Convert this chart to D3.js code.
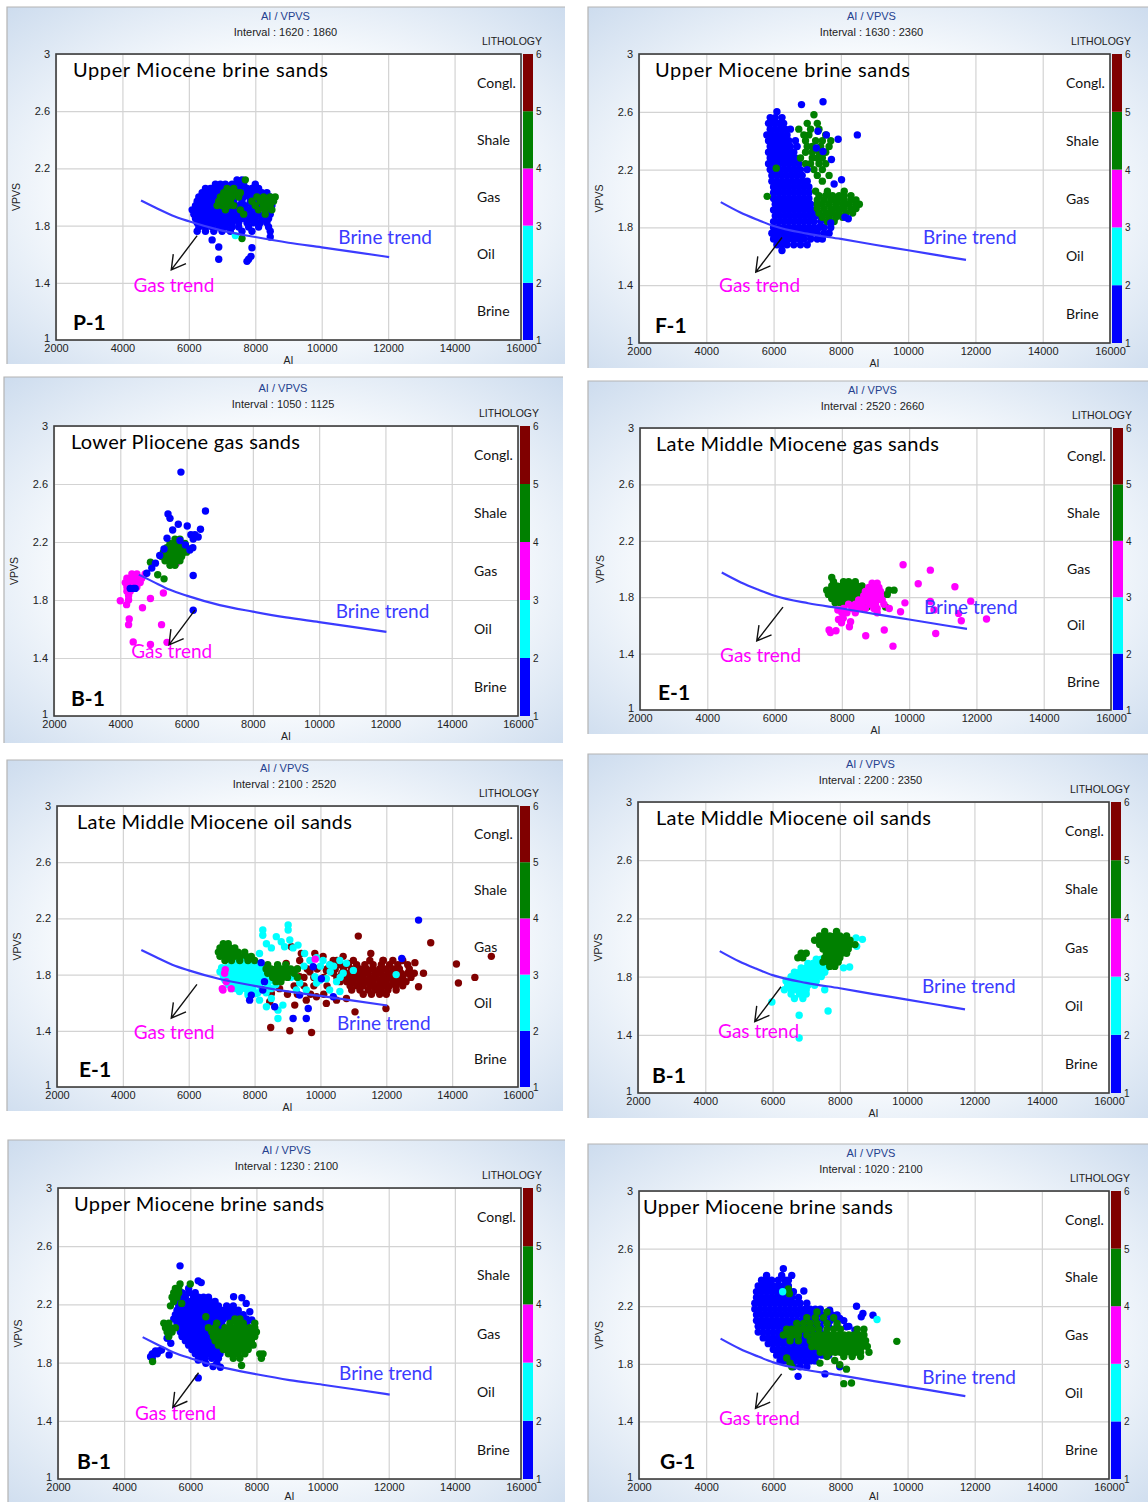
<!DOCTYPE html>
<html>
<head>
<meta charset="utf-8">
<script src="https://cdn.jsdelivr.net/npm/d3@7"></script>
<style>
  body { margin: 0; background: #ffffff; }
  svg { display: block; }
</style>
</head>
<body>
<div id="chart"></div>
<script>
// ---- shared chart values ----
const xTicks = [2000, 4000, 6000, 8000, 10000, 12000, 14000, 16000];
const yTicks = [1, 1.4, 1.8, 2.2, 2.6, 3];
const lithoTicks = [1, 2, 3, 4, 5, 6];
const lithoKeys = ["brine", "oil", "gas", "shale", "congl"];
const lithoNames = ["Brine", "Oil", "Gas", "Shale", "Congl."];

const titles = [
  "Upper Miocene  brine sands", "Upper  Miocene brine sands",
  "Lower Pliocene gas sands", "Late Middle Miocene gas sands",
  "Late Middle Miocene oil sands", "Late Middle Miocene oil sands",
  "Upper Miocene brine sands", "Upper Miocene brine sands"
];
const wells = ["P-1", "F-1", "B-1", "E-1", "E-1", "B-1", "B-1", "G-1"];
const intervals = [
  "1620 : 1860", "1630 : 2360", "1050 : 1125", "2520 : 2660",
  "2100 : 2520", "2200 : 2350", "1230 : 2100", "1020 : 2100"
];

// brine trend curve [AI, VPVS], left column and right column panels
const brineTrendLeft = [[4560, 1.975], [5000, 1.925], [5500, 1.87], [6000, 1.83], [7000, 1.765],
  [8000, 1.72], [9000, 1.68], [10000, 1.648], [11000, 1.615], [12030, 1.58]];
const brineTrendRight = [[4430, 1.975], [5000, 1.905], [5500, 1.855], [6000, 1.81], [7000, 1.757],
  [8000, 1.72], [9000, 1.68], [10000, 1.642], [11000, 1.603], [11720, 1.575]];
const gasArrow = [[6250, 1.73], [5470, 1.49]];
const brineLabelAt = [[10500, 1.72], [10440, 1.731], [10500, 1.724], [10440, 1.728],
  [10500, 1.456], [10440, 1.737], [10500, 1.726], [10440, 1.708]];
const gasLabelAt = [[4330, 1.385], [4380, 1.40], [4330, 1.448], [4380, 1.389],
  [4330, 1.391], [4380, 1.423], [4330, 1.452], [4380, 1.424]];

// ---- scatter points: [VPVS, [AI, AI, ...]] ----
// P-1
const p1Brine = [
  [2.12, [7450, 7600]], [2.09, [6800, 6950, 7100, 7300, 7450, 7650, 8000]],
  [2.06, [6500, 6650, 6800, 6950, 7100, 7250, 7400, 7550, 7750, 7900, 8100]],
  [2.03, [6400, 6550, 6700, 6850, 7000, 7150, 7300, 7500, 7700, 7850, 8000, 8200, 8350]],
  [2.00, [6300, 6450, 6600, 6750, 6900, 7050, 7200, 7400, 7650, 7850, 8050, 8250, 8450]],
  [1.97, [6250, 6400, 6550, 6700, 6850, 7000, 7150, 7350, 7600, 7850, 8100, 8300, 8450]],
  [1.94, [6200, 6350, 6500, 6650, 6800, 6950, 7100, 7300, 7500, 7700, 7900, 8150, 8350, 8500]],
  [1.91, [6100, 6250, 6400, 6550, 6700, 6850, 7000, 7150, 7300, 7450, 7650, 7850, 8050, 8300, 8450]],
  [1.88, [6150, 6300, 6450, 6600, 6750, 6900, 7050, 7200, 7350, 7500, 7700, 7900, 8100, 8300, 8450]],
  [1.85, [6200, 6350, 6500, 6650, 6800, 6950, 7100, 7250, 7400, 7600, 7800, 8000, 8200, 8400]],
  [1.82, [6250, 6400, 6550, 6700, 6850, 7000, 7150, 7300, 7500, 7750, 7950, 8150, 8350]],
  [1.79, [6300, 6500, 6700, 6900, 7100, 7300, 7500, 7800, 8100, 8400]],
  [1.76, [6250, 6500, 6750, 7000, 7250, 7600, 7900, 8450]],
  [1.72, [8450]], [1.70, [6700]], [1.65, [6900]], [1.645, [7900]], [1.585, [7870]],
  [1.565, [6900, 7800]], [1.55, [7750]]
];
const p1Shale = [
  [2.12, [7700]], [2.06, [7150, 7350]], [2.03, [7050, 7250, 7450, 7550]],
  [2.00, [6950, 7150, 7300, 7500, 8050, 8250, 8450, 8600]],
  [1.97, [6900, 7050, 7250, 7900, 8150, 8350, 8550]],
  [1.94, [6850, 7000, 7200, 7350, 8000, 8250, 8450]],
  [1.91, [7100, 7550, 8100, 8300, 8500]], [1.88, [7650, 8300]], [1.71, [7600]]
];
const p1Oil = [[1.73, [7400]]];

// F-1
const p2Brine = [
  [2.67, [7470]], [2.65, [6830]], [2.60, [6100]], [2.56, [5900, 6050, 6250]],
  [2.52, [5850, 6000, 6150, 6300]], [2.48, [5900, 6050, 6200, 6350, 6500]],
  [2.44, [5800, 5950, 6100, 6250, 6400, 8490]], [2.40, [5850, 6000, 6150, 6300, 6450, 6650]],
  [2.36, [5900, 6050, 6200, 6350, 6500, 6700]], [2.32, [5850, 6000, 6150, 6300, 6450, 6600]],
  [2.28, [5900, 6050, 6200, 6350, 6500, 6650]], [2.24, [5850, 6000, 6150, 6300, 6450, 6600, 6750]],
  [2.20, [5900, 6050, 6200, 6350, 6500, 6650, 6800]], [2.16, [5950, 6100, 6250, 6400, 6550, 6700, 6850]],
  [2.12, [5950, 6100, 6250, 6400, 6550, 6700, 6850, 7000]],
  [2.08, [6000, 6150, 6300, 6450, 6600, 6750, 6900, 7050]],
  [2.04, [6000, 6150, 6300, 6450, 6600, 6750, 6900, 7050]],
  [2.00, [6000, 6150, 6300, 6450, 6600, 6750, 6900, 7050]],
  [1.96, [6050, 6200, 6350, 6500, 6650, 6800, 6950, 7100]],
  [1.92, [6000, 6150, 6300, 6450, 6600, 6750, 6900, 7050, 7200]],
  [1.88, [6050, 6200, 6350, 6500, 6650, 6800, 6950, 7100, 7250, 7400]],
  [1.84, [6000, 6150, 6300, 6450, 6600, 6750, 6900, 7050, 7200, 7400, 7600]],
  [1.80, [6000, 6150, 6300, 6450, 6600, 6750, 6900, 7050, 7200, 7350, 7500, 7700]],
  [1.76, [5950, 6100, 6250, 6400, 6550, 6700, 6850, 7000, 7150, 7300, 7500, 7650]],
  [1.72, [6000, 6150, 6300, 6450, 6600, 6750, 6900, 7100, 7300, 7450]],
  [1.68, [6100, 6250, 6400, 6600, 6800, 7000]], [1.64, [6250]]
];
const p2Shale = [
  [2.58, [7200]], [2.52, [7000, 7300]], [2.48, [6750, 7100, 7350]], [2.44, [6900, 7050, 7550]],
  [2.40, [6950, 7250, 7450, 7700]], [2.36, [7000, 7150, 7400, 7650]], [2.32, [6950, 7150, 7350, 7550]],
  [2.28, [6800, 7150, 7300, 7450]], [2.24, [6950, 7100, 7350, 7550]], [2.20, [7200, 7450]],
  [2.16, [7300, 7650]], [2.12, [7450]], [2.21, [6080]], [2.015, [5810]],
  [2.05, [7250, 7600, 8100]], [2.02, [7350, 7550, 7750, 7950, 8100, 8300]],
  [1.99, [7300, 7500, 7700, 7900, 8100, 8300, 8450]],
  [1.96, [7300, 7450, 7650, 7850, 8050, 8250, 8450, 8550]],
  [1.93, [7300, 7500, 7700, 7900, 8100, 8300, 8450]],
  [1.90, [7350, 7550, 7750, 7950, 8150, 8350]], [1.87, [7450, 7650, 7850, 8050]], [1.84, [7600, 7800]]
];
const p2BrineTop = [
  [2.465, [7320]], [2.44, [7570]], [2.41, [7920]], [2.35, [7270]], [2.325, [7470]], [2.27, [7720]],
  [2.20, [7000]], [2.13, [8020]], [2.10, [7800]], [1.87, [8120]], [1.86, [8220]], [1.83, [7700]]
];

// B-1, lower Pliocene
const p3Gas = [
  [1.98, [4350, 4500, 4750]], [1.95, [4200, 4350, 4500, 4650]], [1.92, [4150, 4300, 4450, 4600]],
  [1.89, [4200, 4350, 4500]], [1.86, [4200, 4300]], [1.83, [4250]], [1.81, [4910]], [1.80, [4250]],
  [1.795, [4000]], [1.848, [5300]], [1.768, [4190]], [1.747, [4670]], [1.669, [4270]],
  [1.63, [4250, 5245]], [1.511, [4390]], [1.493, [4910]], [1.508, [5410]], [2.054, [5690]]
];
const p3Shale = [
  [2.22, [5650, 5800]], [2.19, [5500, 5650, 5800, 5950]], [2.16, [5400, 5550, 5700, 5850, 6000]],
  [2.13, [5300, 5450, 5600, 5750, 5900, 6000]], [2.10, [5250, 5400, 5550, 5700, 5850]],
  [2.07, [5350, 5500, 5650, 5800]], [2.04, [5500, 5650]], [2.061, [4910]], [1.974, [5130]], [1.946, [5320]]
];
const p3Brine = [
  [2.682, [5830]], [2.414, [6570]], [2.393, [5440]], [2.363, [5500]], [2.322, [5750]], [2.31, [6020]],
  [2.288, [6420]], [2.283, [5580]], [2.25, [6130, 6250]], [2.235, [6350]], [2.226, [5410]],
  [2.22, [6200]], [2.21, [5800]], [2.18, [5965]], [2.161, [6190]], [2.152, [5320]], [2.145, [6100]],
  [2.107, [5190]], [2.054, [5060]], [2.02, [4950]], [1.985, [4800]], [1.969, [6200]],
  [1.88, [4300, 4400, 4450]], [1.729, [6200]]
];

// E-1, gas sands
const p4Shale = [
  [1.94, [7700]], [1.91, [7750, 8050, 8200, 8400]],
  [1.88, [7700, 7850, 8000, 8150, 8300, 8450, 8600]],
  [1.85, [7550, 7700, 7850, 8000, 8150, 8300, 8450, 8600, 9400, 9550]],
  [1.82, [7600, 7750, 7900, 8050, 8200, 8350, 8500, 8700, 9200, 9350]],
  [1.79, [7700, 7850, 8000, 8150, 8300, 8450, 8650]],
  [1.76, [7800, 7950, 8100, 8250, 8400, 8550]], [1.73, [8600, 8750, 9300]]
];
const p4Gas = [
  [2.03, [9820]], [1.992, [10630]], [1.895, [10270]], [1.874, [11360]], [1.772, [11830]],
  [1.645, [12300]], [1.685, [11470]], [1.633, [11550]], [1.543, [10790]], [1.76, [9875]],
  [1.697, [9745]], [1.72, [9410]], [1.567, [9260]], [1.453, [9520]], [1.527, [8710]],
  [1.626, [8260]], [1.59, [8225]], [1.642, [7900]], [1.562, [7825]], [1.567, [7620]],
  [1.55, [7660]], [1.619, [7990]], [1.65, [8040]], [1.709, [7880]], [1.77, [10630]], [1.71, [10740]],
  [1.90, [8900, 9050]], [1.87, [8800, 8950, 9100]], [1.84, [8700, 8850, 9000, 9150]],
  [1.81, [8650, 8800, 8950, 9150]], [1.78, [8500, 8650, 8850, 9050, 9200]],
  [1.75, [8200, 8400, 8600, 8800, 9000, 9250]], [1.72, [8050, 8300, 8500, 8700, 8950, 9050]],
  [1.69, [8000, 8150, 8400, 9050]]
];

// E-1, oil sands
const p5Congl = [
  [1.90, [10500, 11000, 11500, 11900, 12200, 12500]],
  [1.87, [10300, 10600, 10850, 11100, 11350, 11600, 11850, 12100, 12350, 12650]],
  [1.84, [9300, 9600, 9900, 10200, 10450, 10700, 10950, 11200, 11400, 11600, 11800, 12000, 12200, 12400, 12700]],
  [1.81, [10400, 10650, 10850, 11050, 11250, 11450, 11650, 11850, 12050, 12250, 12450, 12650, 12850]],
  [1.78, [9500, 9800, 10100, 10500, 10700, 10900, 11100, 11300, 11500, 11700, 11900, 12100, 12300, 12500, 12750]],
  [1.75, [10600, 10800, 11000, 11200, 11400, 11600, 11800, 12000, 12200, 12400, 12600]],
  [1.72, [9200, 9500, 9800, 10200, 10900, 11100, 11300, 11500, 11700, 11900, 12100, 12300, 12500]],
  [1.69, [10950, 11200, 11450, 11650, 11850, 12050, 12300]],
  [1.66, [9000, 9300, 9700, 10100, 11300, 11550, 11800, 12000]],
  [2.074, [11150]], [2.027, [13350]], [1.95, [9420, 9830, 11530]], [1.93, [10080, 10690, 15190]],
  [1.998, [9120]], [1.90, [9370, 11910, 10390]], [1.885, [12870]], [1.88, [8960, 10840]],
  [1.875, [14130]], [1.83, [10180]], [1.82, [9680]], [1.81, [8860, 13130]], [1.785, [9370]],
  [1.78, [14690]], [1.74, [14190]], [1.714, [12980]], [1.70, [8760]], [1.666, [8510]],
  [1.642, [9880]], [1.63, [10790]], [1.618, [9570, 10490]], [1.607, [8460]], [1.595, [10180]],
  [1.583, [9220]], [1.559, [11990]], [1.535, [11050]], [1.424, [8490]], [1.40, [9070]], [1.388, [9730]]
];
const p5Oil = [
  [1.91, [7400, 7600, 7850]], [1.88, [7300, 7500, 7700, 7900, 8150]],
  [1.85, [7000, 7150, 7300, 7450, 7600, 7750, 7900, 8050, 8250]],
  [1.82, [6950, 7100, 7250, 7400, 7550, 7700, 7850, 8000, 8150, 8300]],
  [1.79, [7050, 7200, 7350, 7500, 7650, 7800, 7950, 8100, 8250, 8450]],
  [1.76, [7100, 7250, 7400, 7550, 7700, 7850, 8000, 8150, 8350, 8550]],
  [1.73, [7200, 7350, 7500, 7650, 7800, 7950, 8150, 8400, 8650]],
  [1.70, [7300, 7450, 7600, 7750, 7950, 8200, 8500]], [1.67, [7800, 8100, 8350]],
  [2.153, [9020]], [2.117, [9020, 8250]], [2.08, [8250]], [2.07, [8660]], [2.046, [9070]],
  [2.034, [8810]], [2.02, [8360]], [2.01, [9320]], [1.998, [8910]], [1.99, [9170, 8510]],
  [1.95, [9520, 8150]], [1.92, [9880]], [1.90, [9680, 10080, 10590]], [1.88, [10790]],
  [1.87, [10280]], [1.86, [9500, 10000, 10400]], [1.83, [11000]], [1.82, [9200, 10300]],
  [1.81, [10690]], [1.80, [12300]], [1.785, [9830]], [1.78, [9100, 10600]], [1.77, [10180]],
  [1.76, [9980]], [1.75, [10490]], [1.74, [9370, 9880]], [1.69, [9270, 9570, 10280]],
  [1.68, [10590, 7540]], [1.666, [8050]], [1.654, [7800]], [1.63, [8510]], [1.618, [8150]],
  [1.583, [8860]], [1.571, [8360]], [1.547, [8710]], [1.488, [8710]]
];
const p5Shale = [
  [2.02, [7050, 7200]], [1.99, [6950, 7100, 7250, 7400]],
  [1.96, [6900, 7050, 7200, 7350, 7500, 7700]], [1.93, [6950, 7100, 7250, 7400, 7550, 7750, 7900]],
  [1.90, [7100, 7300, 7550, 7800, 8000]],
  [1.87, [8400, 8700, 8950]], [1.84, [8350, 8500, 8650, 8800, 8950, 9100, 9300]],
  [1.81, [8400, 8550, 8700, 8850, 9000, 9200]], [1.78, [8550, 8700, 8850, 9000, 9300]],
  [1.75, [8650, 8800]]
];
const p5Gas = [[1.69, [7040]], [1.70, [7290, 7020]], [1.749, [7140]], [1.81, [7090]], [1.835, [7110]], [1.91, [9840]]];
const p5Brine = [
  [1.618, [7850]], [1.654, [7900, 9370]], [1.885, [8200]], [1.69, [8250]], [1.571, [8610]],
  [1.488, [9170, 9570]], [1.559, [9630]], [1.856, [9780]], [1.642, [10390]], [1.915, [12470]],
  [2.188, [12980]], [1.77, [10030]], [1.75, [8300]]
];

// B-1, oil sands
const p6Oil = [
  [2.065, [8480]], [2.056, [8670]], [2.008, [8500]], [1.866, [8290]], [1.86, [8110]],
  [1.92, [7300, 7450, 7600]], [1.89, [7050, 7200, 7350, 7500, 7650]],
  [1.86, [6850, 7000, 7150, 7300, 7450, 7600]], [1.83, [6650, 6800, 6950, 7100, 7250, 7400, 7550]],
  [1.80, [6550, 6700, 6850, 7000, 7150, 7300, 7450]], [1.77, [6400, 6550, 6700, 6850, 7000, 7150, 7300]],
  [1.74, [6450, 6600, 6750, 6900, 7050, 7250]], [1.71, [6350, 6550, 6700, 6850, 7000, 7550]],
  [1.68, [6550, 6800, 7000]], [1.65, [6650, 6900]], [1.625, [5980]], [1.534, [6790]],
  [1.564, [7650]], [1.378, [6790]]
];
const p6Shale = [
  [2.11, [7550, 7900]], [2.08, [7400, 7550, 7700, 7850, 8000, 8200]],
  [2.05, [7250, 7400, 7550, 7700, 7850, 8000, 8150, 8300]],
  [2.02, [7400, 7550, 7700, 7850, 8000, 8150, 8300, 8450]],
  [1.99, [7500, 7650, 7800, 7950, 8100, 8250]], [1.96, [6850, 7000, 7600, 7750, 7900, 8050, 8200]],
  [1.93, [6750, 6900, 7550, 7700, 7850, 8000]], [1.90, [7500, 7650, 7800, 7950]], [1.87, [7700, 7850]]
];

// B-1, upper Miocene
const p7Brine = [
  [2.465, [5690]], [2.362, [6240]], [2.35, [6330]], [2.253, [7310]], [2.246, [7560]], [2.207, [7690]],
  [2.15, [7800]], [2.093, [7860]], [2.31, [5950]], [2.28, [5750, 5950, 6150]],
  [2.25, [5650, 5850, 6100, 6250, 6400, 6550]], [2.22, [5700, 5850, 6000, 6150, 6300, 6450, 6600, 6750]],
  [2.19, [5650, 5800, 5950, 6100, 6250, 6400, 6550, 6700, 6850, 7100, 7300]],
  [2.16, [5600, 5750, 5900, 6050, 6200, 6350, 6500, 6650, 6800, 6950, 7100, 7250, 7450]],
  [2.13, [5550, 5700, 5850, 6000, 6150, 6300, 6450, 6600, 6750, 6900, 7050, 7200, 7400, 7600]],
  [2.10, [5500, 5650, 5800, 5950, 6100, 6250, 6400, 6550, 6700, 6850, 7000, 7200, 7450, 7700]],
  [2.07, [5600, 5750, 5900, 6050, 6200, 6350, 6500, 6650, 6800, 6950, 7700]],
  [2.04, [5650, 5800, 5950, 6100, 6250, 6400, 6550, 6700, 6850]],
  [2.01, [5700, 5850, 6000, 6150, 6300, 6450, 6600, 6750]],
  [1.98, [5750, 5900, 6050, 6200, 6350, 6500, 6650, 6800]],
  [1.95, [5850, 6000, 6150, 6300, 6450, 6600, 6750, 6900]],
  [1.92, [5950, 6100, 6250, 6400, 6550, 6700, 6850, 7000]],
  [1.89, [6050, 6200, 6350, 6500, 6650, 6800, 6950]], [1.86, [6150, 6300, 6450, 6600, 6750, 6900]],
  [1.83, [6250, 6450, 6650, 6850]],
  [1.84, [4800]], [1.864, [4910]], [1.887, [5130]], [1.853, [5360]], [1.967, [5300]], [1.933, [5410]],
  [1.86, [4850, 5000]], [1.88, [4950, 5050]], [1.83, [4850]],
  [1.818, [6240]], [1.795, [6470, 6800]], [1.773, [6690]], [1.768, [6910]], [1.695, [6240]]
];
const p7Shale = [
  [2.34, [5690, 6000]], [2.31, [5550, 5650]], [2.28, [5500, 5650]], [2.25, [5450, 5600]], [2.22, [5500]],
  [2.207, [5740]], [2.19, [5400]], [2.115, [6470]], [2.07, [5200, 5350]], [2.04, [5250, 5400, 5550]],
  [2.01, [5300, 5450]], [1.98, [5350]], [1.807, [4860]],
  [2.10, [7350, 7500]], [2.07, [6800, 7200, 7400, 7600, 7950]],
  [2.04, [6550, 6750, 7050, 7200, 7350, 7500, 7650, 7800, 7950]],
  [2.01, [6650, 6850, 7000, 7150, 7300, 7450, 7600, 7750, 7900, 8000]],
  [1.98, [6700, 6900, 7050, 7200, 7350, 7500, 7650, 7800, 7950]],
  [1.95, [6750, 6950, 7100, 7250, 7400, 7550, 7700, 7850]],
  [1.92, [6850, 7000, 7150, 7300, 7450, 7600, 7750, 7900]],
  [1.89, [7000, 7150, 7300, 7450, 7600, 7750]], [1.86, [7150, 7300, 7450, 7650, 8100, 8200]],
  [1.83, [7300, 7500, 8150]], [1.78, [7550]]
];

// G-1
const p8Brine = [
  [2.46, [6300]], [2.414, [6250, 6550, 5800]], [2.38, [6450]], [2.306, [6910]],
  [2.38, [5650, 5800, 5950, 6150, 6350]], [2.34, [5550, 5700, 5850, 6000, 6150, 6300, 6450]],
  [2.30, [5500, 5650, 5800, 5950, 6100, 6250, 6400, 6600]],
  [2.26, [5500, 5650, 5800, 5950, 6100, 6250, 6400, 6550, 6750]],
  [2.22, [5450, 5600, 5750, 5900, 6050, 6200, 6350, 6500, 6650, 6800, 7000]],
  [2.18, [5450, 5600, 5750, 5900, 6050, 6200, 6350, 6500, 6650, 6800, 6950, 7100, 7250, 7400]],
  [2.14, [5500, 5650, 5800, 5950, 6100, 6250, 6400, 6550, 6700, 6850, 7000, 7150, 7300, 7450, 7600, 7750, 7900]],
  [2.10, [5500, 5650, 5800, 5950, 6100, 6250, 6400, 6550, 6700, 6850, 7000, 7150, 7300, 7500, 7700, 7900, 8100]],
  [2.06, [5550, 5700, 5850, 6000, 6150, 6300, 6450, 6600, 6750, 6900, 7050, 7200, 7400, 7650, 7900, 8250]],
  [2.02, [5550, 5700, 5850, 6000, 6150, 6300, 6450, 6600, 6750, 6900, 7050, 7200, 7400]],
  [1.98, [5700, 5850, 6000, 6150, 6300, 6450, 6600, 6750, 6900, 7050, 7200]],
  [1.94, [5850, 6000, 6150, 6300, 6450, 6600, 6750, 6900, 7050, 7200, 7350]],
  [1.90, [6000, 6150, 6300, 6450, 6600, 6750, 6900, 7050, 7200, 7350, 7500]],
  [1.86, [6100, 6250, 6400, 6550, 6700, 6850, 7000, 7150, 7300, 7450, 7650]],
  [1.82, [6200, 6350, 6500, 6650, 6800, 6950, 7100, 7250]], [1.78, [6600, 6800, 7000, 7980]],
  [2.20, [8480]], [2.15, [8670]], [2.138, [8970]], [2.126, [8620]], [2.057, [8180]], [2.034, [8430]],
  [2.115, [7980]], [2.172, [7680]], [1.713, [6740]], [1.73, [7540]]
];
const p8Shale = [
  [2.32, [6450]], [2.287, [6480]], [2.16, [7300, 7600]], [2.12, [7000, 7250, 7500, 7800]],
  [2.08, [6700, 6900, 7100, 7300, 7600, 7900]],
  [2.04, [6400, 6550, 6700, 6850, 7000, 7150, 7350, 7600, 7800, 8000, 8500, 8700]],
  [2.00, [6300, 6450, 6600, 6750, 7000, 7200, 7350, 7500, 7650, 7800, 7950, 8100, 8250, 8400, 8550, 8700]],
  [1.96, [6500, 6750, 7100, 7250, 7400, 7550, 7700, 7850, 8000, 8150, 8300, 8450, 8600, 8750]],
  [1.92, [7150, 7300, 7450, 7600, 7750, 7900, 8050, 8200, 8350, 8500, 8650, 8800]],
  [1.88, [7400, 7550, 7700, 7850, 8000, 8150, 8300, 8450, 8600, 8850]], [1.85, [7600, 8100, 8350, 8600]],
  [1.956, [9680]], [1.823, [7830]], [1.793, [7980]], [1.763, [8180]], [1.662, [8100]], [1.667, [8330]],
  [1.84, [6400]], [1.805, [6500, 7390]], [1.78, [6550]]
];
const p8Oil = [[2.30, [6280]], [2.108, [9090]]];

// drawing order of the point layers per panel
const panelLayers = [
  [["brine", p1Brine], ["shale", p1Shale], ["oil", p1Oil]],
  [["brine", p2Brine], ["shale", p2Shale], ["brine", p2BrineTop]],
  [["gas", p3Gas], ["shale", p3Shale], ["brine", p3Brine]],
  [["shale", p4Shale], ["gas", p4Gas]],
  [["congl", p5Congl], ["oil", p5Oil], ["shale", p5Shale], ["gas", p5Gas], ["brine", p5Brine]],
  [["oil", p6Oil], ["shale", p6Shale]],
  [["brine", p7Brine], ["shale", p7Shale]],
  [["brine", p8Brine], ["shale", p8Shale], ["oil", p8Oil]]
];

// ---- layout (pixels) ----
const boxes = [
  { L: 56, T: 54, R: 521, B: 340, fx: 7, fy: 7, fw: 558, fh: 357, tdx: 17, tw: 255, wdx: 17 },
  { L: 639, T: 54, R: 1110, B: 343, fx: 588, fy: 7, fw: 562, fh: 361, tdx: 16, tw: 255, wdx: 16 },
  { L: 54, T: 426, R: 518, B: 716, fx: 4, fy: 377, fw: 559, fh: 366, tdx: 17, tw: 229, wdx: 17 },
  { L: 640, T: 428, R: 1111, B: 710, fx: 588, fy: 381, fw: 562, fh: 353, tdx: 16, tw: 283, wdx: 18 },
  { L: 57, T: 806, R: 518, B: 1087, fx: 7, fy: 760, fw: 556, fh: 351, tdx: 20, tw: 275, wdx: 22 },
  { L: 638, T: 802, R: 1109, B: 1093, fx: 588, fy: 754, fw: 562, fh: 364, tdx: 18, tw: 275, wdx: 14 },
  { L: 58, T: 1188, R: 521, B: 1479, fx: 8, fy: 1140, fw: 557, fh: 362, tdx: 16, tw: 250, wdx: 19 },
  { L: 639, T: 1191, R: 1109, B: 1479, fx: 588, fy: 1144, fw: 562, fh: 358, tdx: 4, tw: 250, wdx: 21 }
];

const colors = { brine: "#0000ff", oil: "#00ffff", gas: "#ff00ff", shale: "#008000", congl: "#800000" };
const sans = "'Liberation Sans', Arial, sans-serif";
const label = "Lato, 'Open Sans', sans-serif";

const svg = d3.select("#chart").append("svg").attr("width", 1148).attr("height", 1502);

const defs = svg.append("defs");
const grad = defs.append("radialGradient").attr("id", "panelBg")
  .attr("cx", "50%").attr("cy", "52%").attr("r", "72%");
grad.append("stop").attr("offset", "0%").attr("stop-color", "#ffffff");
grad.append("stop").attr("offset", "55%").attr("stop-color", "#f7fafd");
grad.append("stop").attr("offset", "100%").attr("stop-color", "#cddcee");

function expand(rows) {
  return rows.flatMap(([v, ais]) => ais.map((a) => ({ ai: a, vpvs: v })));
}

function drawPanel(i) {
  const b = boxes[i];
  const left = i % 2 === 0;
  const g = svg.append("g");

  const x = d3.scaleLinear().domain([2000, 16000]).range([b.L, b.R]);
  const y = d3.scaleLinear().domain([1, 3]).range([b.B, b.T]);
  const yc = d3.scaleLinear().domain([1, 6]).range([b.B, b.T]);

  // panel background
  g.append("rect")
    .attr("x", b.fx).attr("y", b.fy).attr("width", b.fw).attr("height", b.fh)
    .attr("fill", "url(#panelBg)");
  g.append("path")
    .attr("d", `M${b.fx},${b.fy + b.fh}V${b.fy}H${b.fx + b.fw}`)
    .attr("fill", "none").attr("stroke", "#b4b4b4").attr("stroke-width", 1.2);

  g.append("rect")
    .attr("x", b.L).attr("y", b.T).attr("width", b.R - b.L).attr("height", b.B - b.T)
    .attr("fill", "#ffffff");

  // grid + tick labels
  const xAxis = g.append("g")
    .attr("transform", `translate(0,${b.B})`)
    .call(d3.axisBottom(x).tickValues(xTicks).tickSize(-(b.B - b.T)).tickSizeOuter(0).tickPadding(5)
      .tickFormat(d3.format("d")));
  const yAxis = g.append("g")
    .attr("transform", `translate(${b.L},0)`)
    .call(d3.axisLeft(y).tickValues(yTicks).tickSize(-(b.R - b.L)).tickSizeOuter(0).tickPadding(6)
      .tickFormat((d) => String(d)));
  [xAxis, yAxis].forEach((a) => {
    a.select(".domain").remove();
    a.selectAll(".tick line").attr("stroke", "#d3d3d3").attr("stroke-width", 1.2);
    a.selectAll(".tick text").attr("fill", "#222").style("font-family", sans).style("font-size", "11px");
  });
  xAxis.selectAll(".tick text").attr("dy", "0.6em");
  yAxis.selectAll(".tick text").filter((d) => d === 1).attr("dy", "0.1em");

  // points
  const clipId = "clip" + i;
  defs.append("clipPath").attr("id", clipId).append("rect")
    .attr("x", b.L).attr("y", b.T).attr("width", b.R - b.L).attr("height", b.B - b.T);
  const pts = g.append("g").attr("clip-path", `url(#${clipId})`);
  panelLayers[i].forEach(([key, rows]) => {
    pts.append("g").selectAll("circle")
      .data(expand(rows))
      .enter()
      .append("circle")
      .attr("cx", (d) => x(d.ai))
      .attr("cy", (d) => y(d.vpvs))
      .attr("r", 3.7)
      .attr("fill", colors[key]);
  });

  // brine trend
  const line = d3.line().x((d) => x(d[0])).y((d) => y(d[1])).curve(d3.curveMonotoneX);
  g.append("path")
    .datum(left ? brineTrendLeft : brineTrendRight)
    .attr("d", line)
    .attr("fill", "none").attr("stroke", "#3b3bff").attr("stroke-width", 2.2);

  // gas trend arrow
  const p0 = [x(gasArrow[0][0]), y(gasArrow[0][1])];
  const p1 = [x(gasArrow[1][0]), y(gasArrow[1][1])];
  const ang = Math.atan2(p0[1] - p1[1], p0[0] - p1[0]);
  const head = [ang - 0.52, ang + 0.52].map((a) => [p1[0] + 16 * Math.cos(a), p1[1] + 16 * Math.sin(a)]);
  g.append("path")
    .attr("d", `M${p0}L${p1}M${head[0]}L${p1}L${head[1]}`)
    .attr("fill", "none").attr("stroke", "#111").attr("stroke-width", 1.4);

  // in-plot texts
  g.append("text")
    .attr("x", x(brineLabelAt[i][0])).attr("y", y(brineLabelAt[i][1]) + 7)
    .attr("fill", "#3b3bff").style("font-family", label).style("font-size", "19px")
    .text("Brine trend");
  g.append("text")
    .attr("x", x(gasLabelAt[i][0])).attr("y", y(gasLabelAt[i][1]) + 7)
    .attr("fill", "#ff00ff").style("font-family", label).style("font-size", "19px")
    .text("Gas trend");
  g.append("text")
    .attr("x", b.L + b.tdx).attr("y", b.T + 23)
    .attr("textLength", b.tw).attr("lengthAdjust", "spacing")
    .attr("fill", "#000").style("font-family", label).style("font-size", "20px")
    .text(titles[i]);
  g.append("text")
    .attr("x", b.L + b.wdx).attr("y", b.B - 10)
    .attr("fill", "#000").style("font-family", label).style("font-size", "21px").style("font-weight", "bold")
    .text(wells[i]);
  g.selectAll(".litho")
    .data(lithoNames)
    .enter()
    .append("text")
    .attr("x", b.R - 44)
    .attr("y", (d, k) => yc(k + 1.5) + 5)
    .attr("fill", "#111").style("font-family", label).style("font-size", "14px")
    .text((d) => d);

  // plot frame
  g.append("rect")
    .attr("x", b.L).attr("y", b.T).attr("width", b.R - b.L).attr("height", b.B - b.T)
    .attr("fill", "none").attr("stroke", "#3c3c3c").attr("stroke-width", 1.6);

  // lithology colour bar
  g.selectAll(".band")
    .data(lithoKeys)
    .enter()
    .append("rect")
    .attr("x", b.R + 2).attr("width", 10)
    .attr("y", (d, k) => yc(k + 2)).attr("height", (d, k) => yc(k + 1) - yc(k + 2))
    .attr("fill", (d) => colors[d]);
  g.selectAll(".btick")
    .data(lithoTicks)
    .enter()
    .append("text")
    .attr("x", b.R + 15).attr("y", (d) => yc(d) + 4)
    .attr("fill", "#222").style("font-family", sans).style("font-size", "10px")
    .text((d) => d);

  // headers and axis titles
  const cx = (b.L + b.R) / 2 - 3;
  g.append("text")
    .attr("x", cx).attr("y", b.T - 34).attr("text-anchor", "middle")
    .attr("fill", "#24408e").style("font-family", sans).style("font-size", "11px")
    .text("AI / VPVS");
  g.append("text")
    .attr("x", cx).attr("y", b.T - 18).attr("text-anchor", "middle")
    .attr("fill", "#222").style("font-family", sans).style("font-size", "11px")
    .text("Interval : " + intervals[i]);
  g.append("text")
    .attr("x", b.R + 21).attr("y", b.T - 9).attr("text-anchor", "end")
    .attr("fill", "#222").style("font-family", sans).style("font-size", "10.5px")
    .text("LITHOLOGY");
  g.append("text")
    .attr("x", (b.L + b.R) / 2).attr("y", Math.min(b.B + 24, 1500)).attr("text-anchor", "middle")
    .attr("fill", "#222").style("font-family", sans).style("font-size", "10.5px")
    .text("AI");
  g.append("text")
    .attr("transform", `translate(${b.L - 36},${(b.T + b.B) / 2}) rotate(-90)`)
    .attr("text-anchor", "middle")
    .attr("fill", "#222").style("font-family", sans).style("font-size", "10.5px")
    .text("VPVS");
}

boxes.forEach((b, i) => drawPanel(i));
</script>
</body>
</html>
